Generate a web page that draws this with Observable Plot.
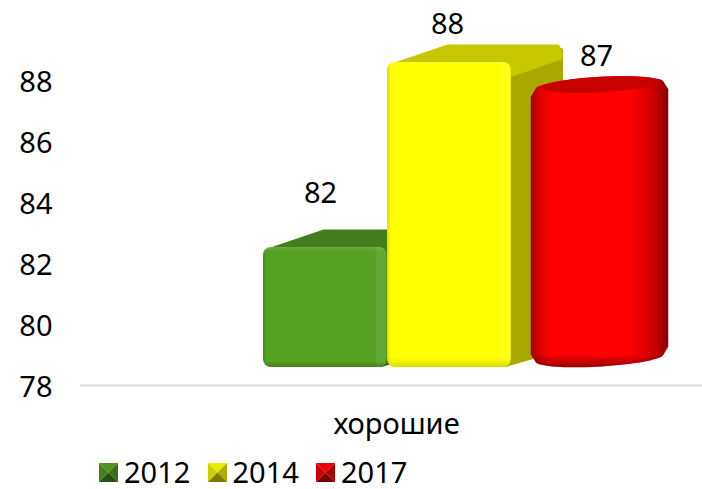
<!DOCTYPE html>
<html><head><meta charset="utf-8">
<script src="https://cdn.jsdelivr.net/npm/d3@7"></script>
<script src="https://cdn.jsdelivr.net/npm/@observablehq/plot@0.6"></script>
<style>
html,body{margin:0;padding:0;background:#fff;overflow:hidden}
#legend{position:absolute;left:99px;top:453px;height:36px;display:flex;align-items:center;font:29px "Noto Sans",sans-serif;color:#000}
#legend .it{display:flex;align-items:center;width:108.5px}
#legend svg{margin-right:6px;margin-top:3px}
svg.plot{display:block}
</style></head><body>
<div id="chart"></div><div id="legend"></div>
<script>
const years = ["2012","2014","2017"];
const values = [82,88,87];
const colors = ["#55a122","#ffff00","#ff0000"];
const category = "хорошие";
const yTicks = [78,80,82,84,86,88];
const rows = years.map((year,i)=>({year,value:values[i]}));
const DX=53, DY=18, NS="http://www.w3.org/2000/svg";
const el=(n,a,p)=>{const e=document.createElementNS(NS,n);for(const k in a)e.setAttribute(k,a[k]);if(p)p.appendChild(e);return e;};
const shade=(c,f)=>{const r=d3.rgb(c);return d3.rgb(r.r*f,r.g*f,r.b*f).formatHex();};

function defs(){
  const d=el("defs",{});
  const grad=(id,attrs,stops)=>{const g=el("linearGradient",{id,...attrs},d);stops.forEach(([o,c,a])=>el("stop",{offset:o,"stop-color":c,"stop-opacity":a??1},g));};
  grad("edgeH",{x1:0,x2:1,y1:0,y2:0},[[0,"#000",.14],[.03,"#000",0],[.9,"#fff",0],[.92,"#fff",.08],[.985,"#fff",.08],[1,"#000",.12]]);
  grad("edgeV",{x1:0,x2:0,y1:0,y2:1},[[0,"#fff",.12],[.04,"#fff",0],[.95,"#000",0],[1,"#000",.22]]);
  grad("edgeVTall",{x1:0,x2:0,y1:0,y2:1},[[0,"#fff",.1],[.015,"#fff",0],[.97,"#000",0],[1,"#000",.14]]);
  grad("cylBottom",{x1:0,x2:0,y1:0,y2:1},[[0,"#000",0],[.955,"#000",0],[1,"#000",.4]]);
  const f=el("filter",{id:"soft",x:"-5%",y:"-5%",width:"110%",height:"110%"},d);
  el("feGaussianBlur",{stdDeviation:.6},f);
  return d;
}

function boxRender(index,scales,vals,dims,ctx,next){
  const g=next(index,scales,vals,dims,ctx);
  for(const r of [...g.querySelectorAll("rect")]){
    const x=+r.getAttribute("x"),y=+r.getAttribute("y"),w=+r.getAttribute("width"),h=+r.getAttribute("height");
    const fill=r.getAttribute("fill");
    const b=el("g",{filter:"url(#soft)"});
    g.insertBefore(b,r);
    const top=shade(fill,.78), side=shade(fill,.66);
    el("polygon",{points:`${x+w-6},${y+6} ${x+w+DX-3},${y-DY+6} ${x+w+DX-3},${y+h-DY} ${x+w-6},${y+h-2}`,fill:side,stroke:side,"stroke-width":4,"stroke-linejoin":"round"},b);
    el("polygon",{points:`${x+8},${y+2} ${x+DX+8},${y-DY+2} ${x+w+DX-6},${y-DY+2} ${x+w+DX-3},${y-DY+8} ${x+w+DX-3},${y-DY+14} ${x+w-2},${y+14} ${x+w-6},${y+2}`,fill:top,stroke:top,"stroke-width":3,"stroke-linejoin":"round"},b);
    b.appendChild(r);
    r.setAttribute("rx",8);
    const a={x,y,width:w,height:h,rx:8};
    el("rect",{...a,fill:"url(#edgeH)"},b);
    el("rect",{...a,fill:h>200?"url(#edgeVTall)":"url(#edgeV)"},b);
  }
  return g;
}

function cylRender(index,scales,vals,dims,ctx,next){
  const g=next(index,scales,vals,dims,ctx);
  for(const r of [...g.querySelectorAll("rect")]){
    const x=+r.getAttribute("x"),y=+r.getAttribute("y"),w=+r.getAttribute("width"),h=+r.getAttribute("height");
    const fill=r.getAttribute("fill");
    r.remove();
    const cx=x+w/2+DX/2, top=y-DY/2, bot=y+h-DY/2;
    const a=w/2+1.5, u=DX/2, v=DY/2+1, ext=Math.hypot(a,u);
    const ring=(cy,s)=>d3.range(72).map(i=>{const t=i*Math.PI/36,c=Math.cos(t),n=Math.sin(t);
      return [cx+s*(a*c+u*n),cy-s*v*n];});
    const path=pts=>"M"+pts.map(q=>q.join(",")).join("L")+"Z";
    const dg=el("linearGradient",{id:"cylGrad",gradientUnits:"userSpaceOnUse",x1:cx-ext,x2:cx+ext,y1:0,y2:0},g);
    [[0,.6],[.05,.84],[.15,1],[.72,1],[.88,.82],[.97,.62],[1,.5]].forEach(([o,f])=>el("stop",{offset:o,"stop-color":shade(fill,f)},dg));
    const b=el("g",{filter:"url(#soft)"},g);
    const hull=d3.polygonHull([...ring(top,.93),...ring(top+8,1),...ring(bot-8,1),...ring(bot,.93)]);
    el("path",{d:path(hull),fill:"url(#cylGrad)"},b);
    el("path",{d:path(hull),fill:"url(#cylBottom)"},b);
    el("path",{d:path(ring(top-1,.84)),fill:shade(fill,.78)},b);
  }
  return g;
}

const chart = Plot.plot({
  width:702,height:453,marginLeft:80,marginRight:0,marginTop:0,marginBottom:68,
  style:{fontFamily:'"Noto Sans",sans-serif',background:"#fff",color:"#000"},
  x:{domain:years,range:[263,635],padding:0,axis:null},
  y:{domain:[78,88],range:[385,80],axis:null},
  color:{domain:years,range:colors},
  marks:[
    defs,
    Plot.ruleY([78],{stroke:"#d9d9d9",strokeWidth:2}),
    Plot.axisY({ticks:yTicks,tickSize:0,tickPadding:28,fontSize:29,dy:2,tickFormat:d=>d,label:null}),
    Plot.barY(rows.slice(0,1),{x:"year",y1:78,y2:"value",fill:"year",dy:-16,insetBottom:2,render:boxRender}),
    Plot.barY(rows.slice(1,2),{x:"year",y1:78,y2:"value",fill:"year",dy:-18,render:boxRender}),
    Plot.barY(rows.slice(2),{x:"year",y1:78,y2:"value",fill:"year",dy:-16,insetBottom:2,render:cylRender}),
    Plot.text(rows.slice(0,1),{x:"year",y:"value",text:"value",fontSize:29,fill:"#000",dx:-5,dy:-70}),
    Plot.text(rows.slice(1,2),{x:"year",y:"value",text:"value",fontSize:29,fill:"#000",dx:-2,dy:-56}),
    Plot.text(rows.slice(2),{x:"year",y:"value",text:"value",fontSize:29,fill:"#000",dx:23,dy:-54}),
    Plot.text([category],{frameAnchor:"bottom",text:d=>d,fontSize:29,fill:"#000",dx:5,dy:48})
  ]
});
document.getElementById("chart").appendChild(chart);

const legend=document.getElementById("legend");
years.forEach((y,i)=>{
  const it=document.createElement("div");it.className="it";
  const s=el("svg",{width:19,height:19,viewBox:"0 0 19 19"},it);
  const c=colors[i],M=19,I=9.5;
  [[`0,0 ${M},0 ${I},${I}`,.92],[`0,0 ${I},${I} 0,${M}`,.8],[`${M},0 ${M},${M} ${I},${I}`,.68],[`0,${M} ${M},${M} ${I},${I}`,.48]].forEach(([p,f])=>el("polygon",{points:p,fill:shade(c,f)},s));
  const t=document.createElement("span");t.textContent=y;it.appendChild(t);
  legend.appendChild(it);
});
</script></body></html>
